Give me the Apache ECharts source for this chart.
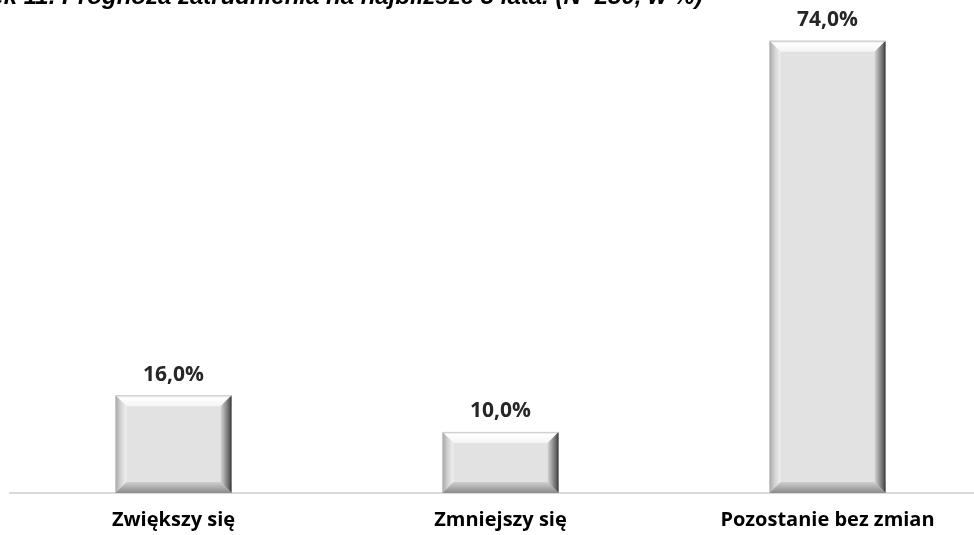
<!DOCTYPE html>
<html><head><meta charset="utf-8">
<script src="https://cdn.jsdelivr.net/npm/echarts@6/dist/echarts.min.js"></script>
<style>html,body{margin:0;padding:0;background:#fff;overflow:hidden}#c{width:991px;height:535px}</style>
</head><body><div id="c"></div>
<script>
const titleText = 'Rysunek 11. Prognoza zatrudnienia na najbliższe 3 lata. (N=250, w %)';
const categories = ['Zwiększy się', 'Zmniejszy się', 'Pozostanie bez zmian'];
const values = [16.0, 10.0, 74.0];

const chart = echarts.init(document.getElementById('c'));
const G = echarts.graphic;

function renderItem(params, api) {
  const v = api.value(1);
  const top = api.coord([api.value(0), v]);
  const base = api.coord([api.value(0), 0]);
  const w = api.size([1, 0])[0] * 0.355;
  const x0 = top[0] - w / 2, x1 = top[0] + w / 2;
  const y0 = top[1], y1 = base[1];
  const d = Math.min(11, (y1 - y0) / 3);
  const children = [];
  children.push({type: 'rect', shape: {x: x0, y: y0, width: w, height: y1 - y0}, style: {fill: '#e2e2e2'}});
  children.push({type: 'polygon', shape: {points: [[x0, y0], [x1, y0], [x1 - d, y0 + d], [x0 + d, y0 + d]]},
    style: {fill: new G.LinearGradient(0, 0, 0, 1, [{offset: 0, color: '#d8d8d8'}, {offset: 0.25, color: '#ffffff'}, {offset: 1, color: '#f4f4f4'}])}});
  children.push({type: 'polygon', shape: {points: [[x0, y0], [x0 + d, y0 + d], [x0 + d, y1 - d], [x0, y1]]},
    style: {fill: new G.LinearGradient(0, 0, 1, 0, [{offset: 0, color: '#a8a8a8'}, {offset: 0.5, color: '#d4d4d4'}, {offset: 1, color: '#f0f0f0'}])}});
  children.push({type: 'polygon', shape: {points: [[x1, y0], [x1 - d, y0 + d], [x1 - d, y1 - d], [x1, y1]]},
    style: {fill: new G.LinearGradient(0, 0, 1, 0, [{offset: 0, color: '#d6d6d6'}, {offset: 0.5, color: '#8e8e8e'}, {offset: 0.85, color: '#5a5a5a'}, {offset: 1, color: '#2a2a2a'}])}});
  children.push({type: 'polygon', shape: {points: [[x0, y1], [x0 + d, y1 - d], [x1 - d, y1 - d], [x1, y1]]},
    style: {fill: new G.LinearGradient(0, 0, 0, 1, [{offset: 0, color: '#cfcfcf'}, {offset: 1, color: '#8a8a8a'}])}});
  children.push({type: 'line', shape: {x1: x0, y1: y0 + 0.5, x2: x1, y2: y0 + 0.5}, style: {stroke: '#cfcfcf', lineWidth: 1}});
  children.push({type: 'text', x: top[0], y: y0 - 10,
    style: {text: values[params.dataIndex].toFixed(1).replace('.', ',') + '%', align: 'center', verticalAlign: 'bottom',
      font: 'bold 21px "Open Sans", sans-serif', fill: '#262626'}});
  return {type: 'group', children};
}

chart.setOption({
  animation: false,
  title: {text: titleText, left: -88, top: -20,
    textStyle: {fontFamily: '"Liberation Sans", Arial, sans-serif', fontSize: 24, fontWeight: 'bold', fontStyle: 'italic', color: '#000'}},
  grid: {left: 10, right: 0, top: 4, bottom: 42},
  xAxis: {type: 'category', data: categories,
    axisLine: {lineStyle: {color: '#d9d9d9', width: 2}}, axisTick: {show: false},
    axisLabel: {margin: 17, fontFamily: '"Open Sans", sans-serif', fontWeight: 'bold', fontSize: 20, color: '#000'}},
  yAxis: {type: 'value', min: 0, max: 80, show: false, splitLine: {show: false}},
  series: [{type: 'custom', renderItem, data: categories.map((c, i) => [i, values[i]]), encode: {x: 0, y: 1}}]
});
</script></body></html>
